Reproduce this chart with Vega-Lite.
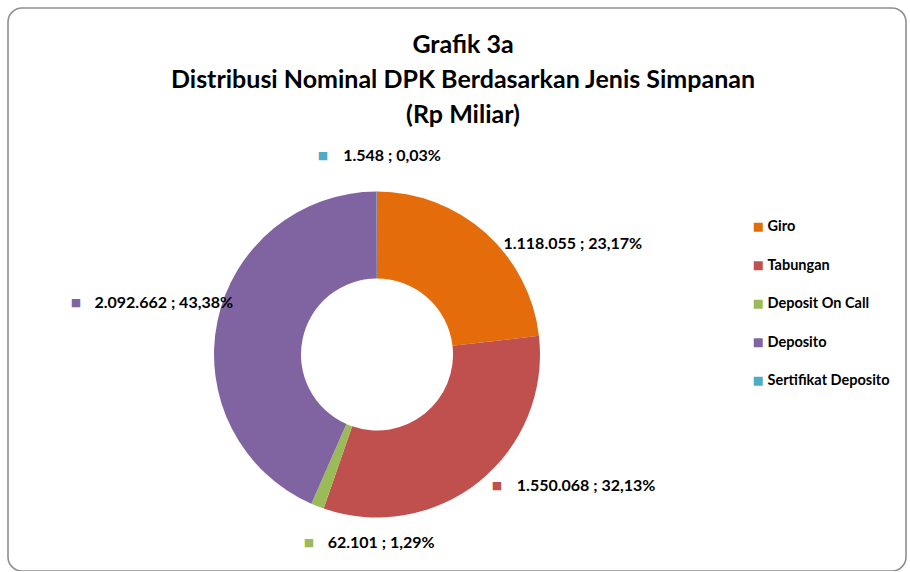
{
  "$schema": "https://vega.github.io/schema/vega-lite/v6.json",
  "autosize": {"type": "none"},
  "padding": {"left": 8, "top": 8, "right": 4, "bottom": 0},
  "width": 898,
  "height": 563,
  "background": "white",
  "view": {"stroke": "#8f8f8f", "strokeWidth": 1.6, "cornerRadius": 14, "fill": "white"},
  "config": {
    "view": {"stroke": "#8f8f8f", "strokeWidth": 1.6, "cornerRadius": 14},
    "font": "Lato"
  },
  "title": {
    "text": ["Grafik 3a", "Distribusi Nominal  DPK Berdasarkan Jenis Simpanan", "(Rp Miliar)"],
    "font": "Lato",
    "fontSize": 25,
    "fontWeight": "bold",
    "color": "black",
    "lineHeight": 35,
    "anchor": "middle",
    "dx": 6,
    "offset": -120
  },
  "data": {
    "values": [
      {"no": 1, "cat": "Giro", "value": 1118055, "label": "1.118.055 ; 23,17%"},
      {"no": 2, "cat": "Tabungan", "value": 1550068, "label": "1.550.068 ; 32,13%"},
      {"no": 3, "cat": "Deposit On Call", "value": 62101, "label": "62.101 ; 1,29%"},
      {"no": 4, "cat": "Deposito", "value": 2092662, "label": "2.092.662 ; 43,38%"},
      {"no": 5, "cat": "Sertifikat Deposito", "value": 1548, "label": "1.548 ; 0,03%"}
    ]
  },
  "encoding": {
    "theta": {"field": "value", "type": "quantitative", "stack": true},
    "order": {"field": "no", "type": "quantitative"}
  },
  "layer": [
    {
      "mark": {"type": "arc", "radius": 163, "innerRadius": 76, "xOffset": -80, "yOffset": 65},
      "encoding": {
        "color": {
          "field": "cat",
          "type": "nominal",
          "sort": ["Giro", "Tabungan", "Deposit On Call", "Deposito", "Sertifikat Deposito"],
          "scale": {
            "domain": ["Giro", "Tabungan", "Deposit On Call", "Deposito", "Sertifikat Deposito"],
            "range": ["#E46C0A", "#C0504D", "#9BBB59", "#8064A2", "#4BACC6"]
          },
          "legend": {
            "orient": "none",
            "legendX": 743,
            "legendY": 212,
            "title": null,
            "symbolType": "square",
            "symbolSize": 81,
            "symbolStrokeWidth": 0,
            "labelFont": "Lato",
            "labelFontSize": 14.5,
            "labelFontWeight": "bold",
            "labelColor": "black",
            "rowPadding": 23.5,
            "labelOffset": 2,
            "padding": 0
          }
        }
      }
    },
    {
      "mark": {"type": "text", "radius": 163, "xOffset": -80, "yOffset": 65, "dx": 18, "dy": 4, "font": "DejaVu Sans", "fontSize": 11, "align": "center", "baseline": "middle"},
      "encoding": {
        "color": {"field": "cat", "type": "nominal", "legend": null},
        "text": {"condition": {"test": "datum.cat === 'Tabungan'", "value": "■"}, "value": ""}
      }
    },
    {
      "mark": {"type": "text", "radius": 163, "xOffset": -80, "yOffset": 65, "dx": -8.5, "dy": 37, "font": "DejaVu Sans", "fontSize": 11, "align": "center", "baseline": "middle"},
      "encoding": {
        "color": {"field": "cat", "type": "nominal", "legend": null},
        "text": {"condition": {"test": "datum.cat === 'Deposit On Call'", "value": "■"}, "value": ""}
      }
    },
    {
      "mark": {"type": "text", "radius": 163, "xOffset": -80, "yOffset": 65, "dx": -141.4, "dy": -18, "font": "DejaVu Sans", "fontSize": 11, "align": "center", "baseline": "middle"},
      "encoding": {
        "color": {"field": "cat", "type": "nominal", "legend": null},
        "text": {"condition": {"test": "datum.cat === 'Deposito'", "value": "■"}, "value": ""}
      }
    },
    {
      "mark": {"type": "text", "radius": 163, "xOffset": -80, "yOffset": 65, "dx": -54, "dy": -35.5, "font": "DejaVu Sans", "fontSize": 11, "align": "center", "baseline": "middle"},
      "encoding": {
        "color": {"field": "cat", "type": "nominal", "legend": null},
        "text": {"condition": {"test": "datum.cat === 'Sertifikat Deposito'", "value": "■"}, "value": ""}
      }
    },
    {
      "mark": {"type": "text", "radius": 163, "xOffset": -80, "yOffset": 65, "dx": 18, "dy": 11, "align": "left", "baseline": "middle", "font": "Lato", "fontSize": 16, "fontWeight": "bold", "color": "black"},
      "encoding": {
        "detail": {"field": "cat", "type": "nominal"},
        "text": {"condition": {"test": "datum.cat === 'Giro'", "field": "label"}, "value": ""}
      }
    },
    {
      "mark": {"type": "text", "radius": 163, "xOffset": -80, "yOffset": 65, "dx": 37.8, "dy": 4, "align": "left", "baseline": "middle", "font": "Lato", "fontSize": 16, "fontWeight": "bold", "color": "black"},
      "encoding": {
        "detail": {"field": "cat", "type": "nominal"},
        "text": {"condition": {"test": "datum.cat === 'Tabungan'", "field": "label"}, "value": ""}
      }
    },
    {
      "mark": {"type": "text", "radius": 163, "xOffset": -80, "yOffset": 65, "dx": 10.2, "dy": 37, "align": "left", "baseline": "middle", "font": "Lato", "fontSize": 16, "fontWeight": "bold", "color": "black"},
      "encoding": {
        "detail": {"field": "cat", "type": "nominal"},
        "text": {"condition": {"test": "datum.cat === 'Deposit On Call'", "field": "label"}, "value": ""}
      }
    },
    {
      "mark": {"type": "text", "radius": 163, "xOffset": -80, "yOffset": 65, "dx": -123, "dy": -18, "align": "left", "baseline": "middle", "font": "Lato", "fontSize": 16, "fontWeight": "bold", "color": "black"},
      "encoding": {
        "detail": {"field": "cat", "type": "nominal"},
        "text": {"condition": {"test": "datum.cat === 'Deposito'", "field": "label"}, "value": ""}
      }
    },
    {
      "mark": {"type": "text", "radius": 163, "xOffset": -80, "yOffset": 65, "dx": -33.7, "dy": -35.5, "align": "left", "baseline": "middle", "font": "Lato", "fontSize": 16, "fontWeight": "bold", "color": "black"},
      "encoding": {
        "detail": {"field": "cat", "type": "nominal"},
        "text": {"condition": {"test": "datum.cat === 'Sertifikat Deposito'", "field": "label"}, "value": ""}
      }
    }
  ]
}
